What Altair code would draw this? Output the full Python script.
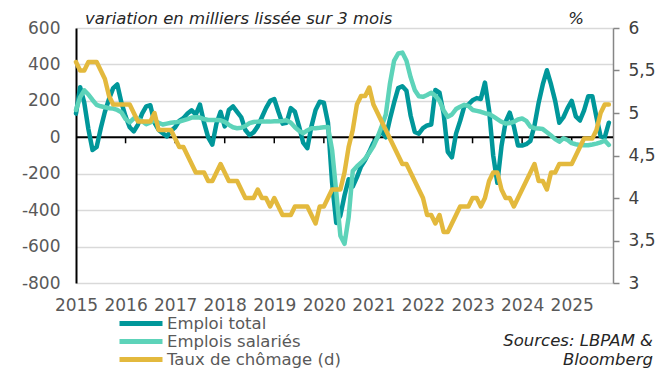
import altair as alt
import pandas as pd

# ---------------- data ----------------
series_names = ["Emploi total", "Emplois salariés", "Taux de chômage (d)"]
series_colors = ["#00979A", "#5DD3B9", "#E3B93D"]

start_year = 2015  # first monthly point = January 2015

emploi_total = [130, 275, 190, 45, -70, -53, 50, 140, 210, 270,
                290, 190, 115, 55, 32, 70, 130, 170, 176, 80,
                40, 22, 5, 35, 55, 90, 105, 130, 148, 125,
                180, 80, 0, -40, 75, 140, 60, 150, 170, 140,
                110, 40, 12, 27, 60, 110, 160, 200, 210, 140,
                75, 80, 160, 140, 60, -30, -60, 60, 150, 195,
                190, 80, -250, -470, -430, -320, -230, -270, -220, -160,
                -125, -80, -30, 0, 35, 0, 100, 190, 270, 280,
                255, 120, 30, 20, 50, 65, 70, 260, 245, 130,
                -80, -110, 20, 90, 170, 180, 203, 215, 210, 300,
                150, -100, -250, -50, 84, 135, 60, -45, -45, -38,
                -20, 65, 190, 290, 368, 290, 200, 80, 110, 160,
                200, 115, 92, 148, 225, 225, 110, 5, 0, 80]

emplois_salaries = [150, 220, 258, 235, 205, 178, 170, 165, 160, 158,
                    150, 137, 100, 82, 104, 100, 88, 72, 82, 92,
                    80, 70, 75, 80, 82, 86, 93, 100, 108, 110,
                    108, 100, 95, 95, 95, 93, 85, 68, 55, 50,
                    52, 62, 78, 84, 86, 88, 86, 86, 88, 88,
                    90, 93, 80, 55, 35, 22, 38, 50, 50, 52,
                    55, 57, -70, -300, -540, -585, -440, -185, -160, -140,
                    -117, -85, -50, 0, 60, 125, 295, 420, 460, 465,
                    420, 330, 260, 225, 222, 232, 245, 228, 200, 148,
                    112, 125, 155, 168, 178, 172, 150, 145, 140, 132,
                    128, 115, 100, 85, 75, 78, 85, 98, 103, 90,
                    58, 50, 48, 45, 28, 10, -10, -24, -5, -15,
                    -32, -38, -42, -44, -44, -40, -35, -28, -18, -42]

taux_chomage = [5.6, 5.5, 5.5, 5.6, 5.6, 5.6, 5.5, 5.4, 5.2, 5.1,
                5.1, 5.1, 5.1, 5.1, 5.0, 4.9, 4.9, 4.9, 4.9, 5.0,
                4.8, 4.8, 4.8, 4.8, 4.7, 4.6, 4.6, 4.5, 4.4, 4.3,
                4.3, 4.3, 4.2, 4.2, 4.3, 4.4, 4.3, 4.2, 4.2, 4.2,
                4.1, 4.0, 4.0, 4.0, 4.1, 4.0, 4.0, 3.9, 4.0, 3.9,
                3.8, 3.8, 3.8, 3.9, 3.9, 3.9, 3.9, 3.8, 3.7, 3.9,
                3.9, 4.0, 4.1, 4.1, 4.1, 4.3, 4.6, 4.8, 5.1, 5.2,
                5.2, 5.3, 5.1, 5.0, 4.9, 4.8, 4.7, 4.6, 4.5, 4.4,
                4.4, 4.3, 4.2, 4.1, 4.0, 3.8, 3.8, 3.7, 3.8, 3.6,
                3.6, 3.7, 3.8, 3.9, 3.9, 3.9, 4.0, 4.0, 3.9, 4.0,
                4.2, 4.3, 4.3, 4.1, 4.0, 4.0, 3.9, 4.0, 4.1, 4.2,
                4.3, 4.4, 4.2, 4.2, 4.1, 4.3, 4.3, 4.4, 4.4, 4.4,
                4.4, 4.5, 4.6, 4.7, 4.7, 4.7, 4.8, 5.0, 5.1, 5.1]

year_labels = list(range(2015, 2026))
left_ticks = [-800, -600, -400, -200, 0, 200, 400, 600]
right_ticks = [3, 3.5, 4, 4.5, 5, 5.5, 6]

title_text = "variation en milliers lissée sur 3 mois"
unit_text = "%"
source_text = "Sources: LBPAM &\nBloomberg"

# ---------------- tables ----------------
months = list(range(len(emploi_total)))
df_total = pd.DataFrame({"m": months, "v": emploi_total, "serie": series_names[0]})
df_sal = pd.DataFrame({"m": months, "v": emplois_salaries, "serie": series_names[1]})
df_taux = pd.DataFrame({"m": months, "v": taux_chomage, "serie": series_names[2]})
year_months = [(y - start_year) * 12 for y in year_labels]
df_ticks = pd.DataFrame({"m": year_months[1:], "v": [0] * (len(year_months) - 1)})
df_zero = pd.DataFrame({"v": [0]})

FONT = "DejaVu Sans"
GREY = "#595959"

color_scale = alt.Scale(domain=series_names, range=series_colors)
legend = alt.Legend(
    orient="none", legendX=41, legendY=287, direction="vertical", title=None,
    symbolType="stroke", symbolSize=1849, symbolStrokeWidth=5, symbolOpacity=1,
    labelFont=FONT, labelFontSize=16.5, labelColor=GREY, labelOffset=2, labelLimit=400,
    clipHeight=17, rowPadding=1, padding=0,
)

x_enc = alt.X(
    "m:Q",
    scale=alt.Scale(domain=[0, 130], nice=False, zero=False),
    axis=alt.Axis(
        values=year_months, labelExpr=f"toString({start_year} + datum.value / 12)",
        domain=False, ticks=False, grid=False, title=None,
        labelFont=FONT, labelFontSize=17, labelColor=GREY, labelPadding=14,
        labelFlush=False, labelOverlap=False,
    ),
)

y_left_scale = alt.Scale(domain=[-800, 600], nice=False, zero=False)
y_left_axis = alt.Axis(
    values=left_ticks, labelExpr="toString(datum.value)", title=None,
    grid=True, gridColor="#D9D9D9", gridWidth=1.5,
    domain=True, domainColor="#000000", domainWidth=2, ticks=False,
    labelFont=FONT, labelFontSize=17, labelColor=GREY, labelPadding=16,
)
y_left = alt.Y("v:Q", scale=y_left_scale, axis=y_left_axis)

y_right = alt.Y(
    "v:Q",
    scale=alt.Scale(domain=[3, 6], nice=False, zero=False),
    axis=alt.Axis(
        orient="right", values=right_ticks, title=None, grid=False,
        labelExpr="replace(toString(datum.value), '.', ',')",
        domain=True, domainColor="#868686", domainWidth=1.5,
        ticks=True, tickColor="#868686", tickWidth=1.5, tickSize=6,
        labelFont=FONT, labelFontSize=17, labelColor="#404040", labelPadding=9,
    ),
)

color_enc = alt.Color("serie:N", scale=color_scale, legend=legend)
line_style = dict(strokeWidth=4.5, strokeCap="round", strokeJoin="round")

zero_line = alt.Chart(df_zero).mark_rule(color="#000000", strokeWidth=2).encode(y=y_left)
year_ticks = alt.Chart(df_ticks).mark_tick(
    orient="vertical", size=6, thickness=1.5, yOffset=3, color="#000000", opacity=1
).encode(x=x_enc, y=y_left)
teal = alt.Chart(df_total).mark_line(**line_style).encode(x=x_enc, y=y_left, color=color_enc)
aqua = alt.Chart(df_sal).mark_line(**line_style).encode(x=x_enc, y=y_left, color=color_enc)
left = alt.layer(zero_line, year_ticks, teal, aqua)

gold = alt.Chart(df_taux).mark_line(**line_style).encode(x=x_enc, y=y_right, color=color_enc)

title_mark = alt.Chart(pd.DataFrame({"t": [title_text]})).mark_text(
    align="left", baseline="alphabetic", font=FONT, fontSize=16.5, fontStyle="italic", color="#262626"
).encode(x=alt.value(9), y=alt.value(-4), text="t:N")
unit_mark = alt.Chart(pd.DataFrame({"t": [unit_text]})).mark_text(
    align="center", baseline="alphabetic", font=FONT, fontSize=16.5, fontStyle="italic", color="#262626"
).encode(x=alt.value(500), y=alt.value(-4), text="t:N")
source_mark = alt.Chart(pd.DataFrame({"t": [source_text]})).mark_text(
    align="right", baseline="alphabetic", font=FONT, fontSize=16.5, fontStyle="italic",
    color="#262626", lineBreak="\n", lineHeight=19,
).encode(x=alt.value(577), y=alt.value(318), text="t:N")

chart = (
    alt.layer(left, gold, title_mark, unit_mark, source_mark)
    .resolve_scale(y="independent")
    .properties(
        width=537, height=255,
        padding={"left": 68, "top": 20, "right": 49, "bottom": 88},
        autosize=alt.AutoSizeParams(type="none"),
        background="#FFFFFF",
    )
    .configure_view(stroke=None)
)

chart.save("out.html", embed_options={"renderer": "svg", "actions": False})
